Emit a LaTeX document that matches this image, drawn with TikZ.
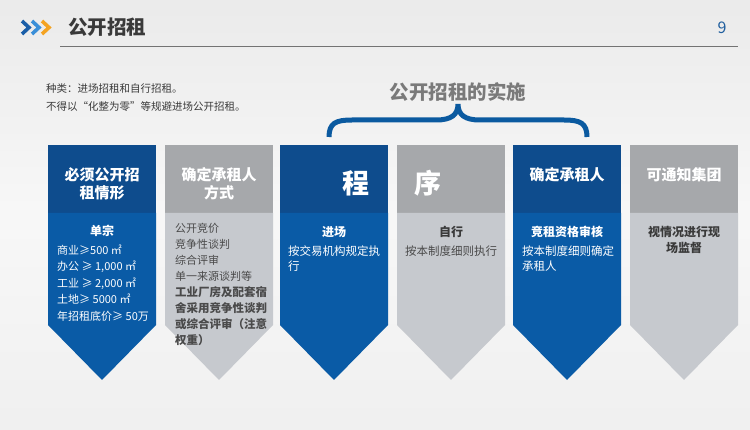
\documentclass[tikz,border=0pt]{standalone}
\usepackage{fontspec}
\setmainfont{Noto Sans CJK SC}
\begin{document}
\begin{tikzpicture}[x=1pt,y=-1pt,
  hblue/.style={fill=colHB},
  bblue/.style={fill=colBB},
  hgray/.style={fill=colHG},
  bgray/.style={fill=colBG},
  htext/.style={text=white,font=\fontsize{15}{18}\selectfont\bfseries,align=center,inner sep=0pt},
  bigtext/.style={text=white,font=\fontsize{27}{30}\selectfont\bfseries,inner sep=0pt},
  wlabel/.style={text=white,font=\fontsize{12}{16}\selectfont\bfseries,inner sep=0pt},
  glabel/.style={text=colDark,font=\fontsize{12}{16}\selectfont\bfseries,inner sep=0pt,align=center},
  wbody/.style={text=white,font=\fontsize{11}{16.5}\selectfont,align=left,inner sep=0pt,anchor=north west},
  gbody/.style={text=colGT,font=\fontsize{11}{16}\selectfont,align=left,inner sep=0pt,anchor=north west},
]
\definecolor{colHB}{HTML}{0E4C8D}
\definecolor{colBB}{HTML}{0A5BA6}
\definecolor{colHG}{HTML}{A6A8AB}
\definecolor{colBG}{HTML}{C6C9CE}
\definecolor{colDark}{HTML}{3A3A3A}
\definecolor{colGT}{HTML}{4A4A4A}
\definecolor{colBrace}{HTML}{0B5AA0}
\definecolor{colTitle}{HTML}{3A3A3A}
\definecolor{colSub}{HTML}{7A7A7A}
\definecolor{colPage}{HTML}{1F5E9E}
\definecolor{chevA}{HTML}{1A5EA8}
\definecolor{chevB}{HTML}{3A8FD8}
\definecolor{chevC}{HTML}{F4A321}
% background
\path[use as bounding box] (0,0) rectangle (750,430);
\shade[top color=black!8,bottom color=black!6,middle color=black!3] (0,0) rectangle (750,430);
% header chevrons
\foreach \xx/\cc in {22/chevA,32/chevB,42/chevC}{
  \draw[\cc,line width=3.6pt,line join=miter] (\xx,21) -- (\xx+7,27.5) -- (\xx,34);
}
\node[text=colTitle,font=\fontsize{19.5}{22}\selectfont\bfseries,anchor=west,inner sep=0pt] (title) at (68,27) {公开招租};
\node[text=colPage,font=\fontsize{16}{18}\selectfont,inner sep=0pt] (page) at (722,28) {9};
\coordinate (hl) at (60,46);
\coordinate (hr) at (738,46);
\draw[black!55,line width=0.9pt] (hl) -- (hr);
% intro text
\node[text=colDark,font=\fontsize{10.5}{13}\selectfont,anchor=west,inner sep=0pt] (t1) at (46,89) {种类：进场招租和自行招租。};
\node[text=colDark,font=\fontsize{10.5}{13}\selectfont,anchor=west,inner sep=0pt] (t2) at (46,107) {不得以“化整为零”等规避进场公开招租。};
% subtitle and brace
\node[text=colSub,font=\fontsize{19.5}{22}\selectfont\bfseries,inner sep=0pt] (sub) at (458,92) {公开招租的实施};
\coordinate (bl) at (329,137);
\coordinate (br) at (587,137);
\draw[colBrace,line width=5pt] (bl) .. controls (329,123) and (336,120) .. (352,120) -- (436,120)
  .. controls (451,120) and (458,115) .. (458,104)
  .. controls (458,115) and (465,120) .. (480,120) -- (564,120)
  .. controls (580,120) and (587,123) .. (br);
% columns
\foreach \lx/\hs/\bs in {48/hblue/bblue,165/hgray/bgray,280/hblue/bblue,397/hgray/bgray,513/hblue/bblue,630/hgray/bgray}{
  \fill[\hs] (\lx,145) rectangle (\lx+108,213);
  \fill[\bs] (\lx,213) -- (\lx+108,213) -- (\lx+108,325) -- (\lx+54,380) -- (\lx,325) -- cycle;
}
% column 1
\node[htext] (h1) at (102,184) {必须公开招\\租情形};
\node[wlabel] (l1) at (102,231) {单宗};
\node[wbody] (b1) at (57,244.5) {商业≥500 ㎡\\办公 ≥ 1,000 ㎡\\工业 ≥ 2,000 ㎡\\土地≥ 5000 ㎡\\年招租底价≥ 50万};
% column 2
\node[htext] (h2) at (219,184) {确定承租人\\方式};
\node[gbody] (b2) at (175,223.5) {公开竞价\\竞争性谈判\\综合评审\\单一来源谈判等\\\textbf{\fontsize{11.5}{16}\selectfont 工业厂房及配套宿}\\\textbf{\fontsize{11.5}{16}\selectfont 舍采用竞争性谈判}\\\textbf{\fontsize{11.5}{16}\selectfont 或综合评审（注意}\\\textbf{\fontsize{11.5}{16}\selectfont 权重）}};
% column 3
\node[bigtext] (h3) at (356,183) {程};
\node[wlabel] (l3) at (334,232) {进场};
\node[wbody,font=\fontsize{11.5}{14.5}\selectfont] (b3) at (288,246) {按交易机构规定执\\行};
% column 4
\node[bigtext] (h4) at (428,183) {序};
\node[glabel] (l4) at (451,232) {自行};
\node[text=colGT,font=\fontsize{11.5}{14.5}\selectfont,inner sep=0pt] (b4) at (451,251) {按本制度细则执行};
% column 5
\node[htext] (h5) at (567,175) {确定承租人};
\node[wlabel] (l5) at (567,232) {竞租资格审核};
\node[wbody,font=\fontsize{11.5}{15}\selectfont] (b5) at (522,246) {按本制度细则确定\\承租人};
% column 6
\node[htext] (h6) at (684,175) {可通知集团};
\node[glabel] (l6) at (684,240) {视情况进行现\\场监督};
\end{tikzpicture}
\end{document}
